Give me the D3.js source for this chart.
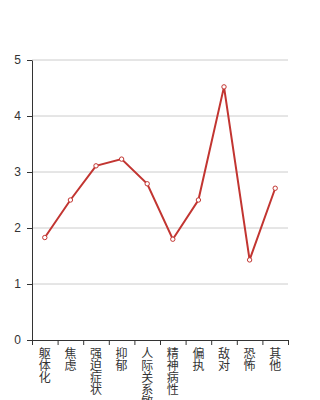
<!DOCTYPE html>
<html>
<head>
<meta charset="utf-8">
<script src="https://cdn.jsdelivr.net/npm/d3@7"></script>
<style>
  body { margin: 0; background: #fff; }
  svg { font-family: "Liberation Sans", "Noto Sans CJK SC", sans-serif; }
</style>
</head>
<body>
<div id="chart"></div>
<script>
// Chart data
var categories = ["躯体化", "焦虑", "强迫症状", "抑郁", "人际关系敏感", "精神病性", "偏执", "敌对", "恐怖", "其他"];
var values = [1.83, 2.5, 3.11, 3.23, 2.79, 1.8, 2.5, 4.52, 1.43, 2.71];
var yTicks = [0, 1, 2, 3, 4, 5];

var width = 320, height = 400;
var margin = { top: 60, right: 32, bottom: 60, left: 32 };
var innerWidth = width - margin.left - margin.right;
var innerHeight = height - margin.top - margin.bottom;

var lineColor = "#c23531";

var svg = d3.select("#chart")
    .append("svg")
    .attr("width", width)
    .attr("height", height)
    .append("g")
    .attr("transform", `translate(${margin.left}, ${margin.top})`);

var x = d3.scaleBand()
    .domain(categories)
    .range([0, innerWidth]);

var y = d3.scaleLinear()
    .domain([0, 5])
    .range([innerHeight, 0]);

// Grid lines
svg.append("g")
    .selectAll("line")
    .data(yTicks.filter(d => d > 0))
    .enter()
    .append("line")
    .attr("x1", 0)
    .attr("x2", innerWidth)
    .attr("y1", d => y(d))
    .attr("y2", d => y(d))
    .attr("stroke", "#ccc")
    .attr("stroke-width", 1);

// Y axis
var yAxis = svg.append("g")
    .call(d3.axisLeft(y).tickValues(yTicks).tickFormat(d3.format("d")).tickSize(5).tickSizeOuter(0).tickPadding(6));
yAxis.select(".domain").attr("stroke", "#333");
yAxis.selectAll("line").attr("stroke", "#333");
yAxis.selectAll("text").attr("fill", "#333").style("font-size", "12px");

// X axis (ticks at band boundaries)
var xAxis = svg.append("g")
    .attr("transform", `translate(0, ${innerHeight})`)
    .call(d3.axisBottom(x).tickSize(0).tickSizeOuter(0).tickFormat(""));
xAxis.select(".domain").attr("stroke", "#333");

var boundaries = categories.map(d => x(d)).concat([innerWidth]);
xAxis.selectAll(".boundary")
    .data(boundaries)
    .enter()
    .append("line")
    .attr("x1", d => d + 0.5)
    .attr("x2", d => d + 0.5)
    .attr("y1", 0)
    .attr("y2", 5)
    .attr("stroke", "#333");

// Vertical category labels, one character per line
var labels = svg.append("g")
    .selectAll("text")
    .data(categories)
    .enter()
    .append("text")
    .attr("fill", "#333")
    .attr("text-anchor", "middle")
    .style("font-size", "12px");

labels.each(function (d) {
    var t = d3.select(this);
    var cx = x(d) + x.bandwidth() / 2;
    d.split("").forEach(function (ch, i) {
        t.append("tspan")
            .attr("x", cx)
            .attr("y", innerHeight + 18 + i * 12)
            .text(ch);
    });
});

// Line
var line = d3.line()
    .x((d, i) => x(categories[i]) + x.bandwidth() / 2)
    .y(d => y(d));

svg.append("path")
    .datum(values)
    .attr("fill", "none")
    .attr("stroke", lineColor)
    .attr("stroke-width", 2)
    .attr("d", line);

// Markers
svg.append("g")
    .selectAll("circle")
    .data(values)
    .enter()
    .append("circle")
    .attr("cx", (d, i) => x(categories[i]) + x.bandwidth() / 2)
    .attr("cy", d => y(d))
    .attr("r", 2.2)
    .attr("fill", "#fff")
    .attr("stroke", lineColor)
    .attr("stroke-width", 1);
</script>
</body>
</html>
